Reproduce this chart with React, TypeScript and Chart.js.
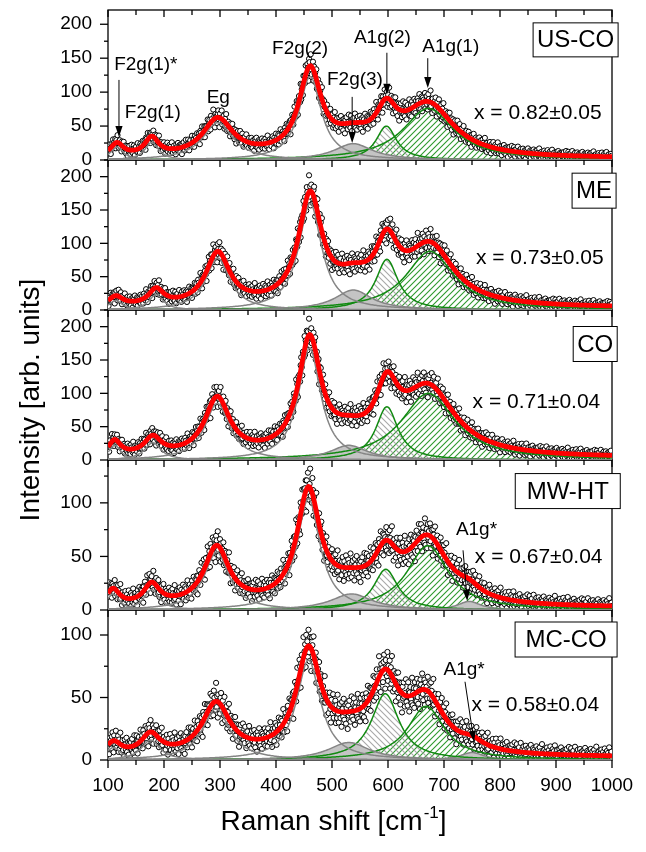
import { useEffect, useRef } from 'react';
import { Chart, registerables } from 'chart.js';

Chart.register(...registerables);

const FONT = '"Liberation Sans", Arial, Helvetica, sans-serif';

// ---------------- data ----------------
const panelNames = ['US-CO', 'ME', 'CO', 'MW-HT', 'MC-CO'];
const compositions = [
  'x = 0.82\u00B10.05',
  'x = 0.73\u00B10.05',
  'x = 0.71\u00B10.04',
  'x = 0.67\u00B10.04',
  'x = 0.58\u00B10.04',
];
const panelYMax = [221, 225, 225, 140, 120];
const xRange = [100, 1000];
const xTickValues = [100, 200, 300, 400, 500, 600, 700, 800, 900, 1000];
const yTickValues = [
  [0, 50, 100, 150, 200],
  [0, 50, 100, 150, 200],
  [0, 50, 100, 150, 200],
  [0, 50, 100],
  [0, 50, 100],
];

// Raman bands: centre [cm-1], height [arb. u.], half width [cm-1]
const bandNames = ['F2g(1)*', 'F2g(1)', 'Eg', 'F2g(2)', 'F2g(3)', 'A1g(2)', 'A1g(1)', 'A1g*'];
const bandCenters = [
  [116, 178, 296, 461, 538, 597, 672, 750],
  [114, 186, 296, 461, 538, 598, 675, 750],
  [112, 180, 295, 460, 530, 598, 672, 750],
  [109, 178, 294, 458, 535, 596, 671, 745],
  [110, 176, 293, 458, 530, 595, 668, 750],
];
const bandHeights = [
  [19, 26, 55, 123, 24, 50, 76, 0],
  [14, 23, 78, 160, 30, 76, 88, 0],
  [22, 26, 85, 168, 22, 80, 100, 0],
  [15, 19, 54, 104, 15, 38, 60, 8],
  [10, 16, 41, 80, 14, 53, 43, 6],
];
const bandWidths = [
  [14, 15, 33, 24, 42, 22, 55, 25],
  [15, 16, 26, 25, 40, 24, 52, 25],
  [13, 18, 27, 24, 40, 24, 58, 25],
  [14, 17, 27, 25, 45, 26, 45, 25],
  [16, 20, 30, 26, 45, 30, 40, 25],
];
const baselines = [2, 3, 3, 2, 2];

// measured-point scatter around the fit (residuals in units of the local noise)
const residuals = [
  0.3, -1.2, 0.8, 1.5, -0.4, -2.0, 0.9, 0.1, -0.7, 1.8, -1.1, 0.5, -0.2, 1.2, -1.6, 0.7, -0.9, 2.1, -0.3, -1.4,
  0.6, 1.0, -0.8, 0.2, -1.9, 1.3, 0.4, -0.6, 1.7, -1.0, -0.1, 0.9, -1.5, 0.5, 1.1, -2.2, 0.8, -0.5, 1.4, -0.2,
  -1.3, 0.3, 1.9, -0.7, 0.0, -1.1, 1.6, 0.6, -1.8, 0.4, 1.0, -0.4, -0.9, 2.0, -1.2, 0.2, 0.7, -1.6, 1.3, -0.3,
  0.5, -1.0, 1.5, -0.6, -1.4, 0.9, 0.1, -2.1, 1.2, 0.6, -0.8, 1.8, -0.5, -1.2, 0.3, 1.1, -1.7, 0.8, -0.1, 0.4,
  -0.9, 1.6, -1.3, 0.2, 1.0, -0.6, -1.5, 1.4, 0.5, -0.3, -1.0, 2.2, -0.7, 0.6, -1.9, 0.9, 0.0,
];
const noiseScale = [0.65, 0.7, 0.7, 0.7, 0.7];
const noiseFloor = [1.8, 2.0, 2.0, 1.9, 1.9];
const pointStep = 1;
const curveStep = 2;

// ---------------- annotations (positions in data units of each panel) ----------------
const peakLabels = [
  { panel: 0, text: 'F2g(1)*', x: 111, y: 140, align: 'left' },
  { panel: 0, text: 'F2g(1)', x: 130, y: 69, align: 'left' },
  { panel: 0, text: 'Eg', x: 297, y: 91, align: 'center' },
  { panel: 0, text: 'F2g(2)', x: 443, y: 164, align: 'center' },
  { panel: 0, text: 'F2g(3)', x: 541, y: 118, align: 'center' },
  { panel: 0, text: 'A1g(2)', x: 590, y: 180, align: 'center' },
  { panel: 0, text: 'A1g(1)', x: 712, y: 167, align: 'center' },
  { panel: 3, text: 'A1g*', x: 758, y: 74.5, align: 'center' },
  { panel: 4, text: 'A1g*', x: 736, y: 72, align: 'center' },
];
const arrows = [
  { panel: 0, x1: 119.6, y1: 118, x2: 119.6, y2: 34 },
  { panel: 0, x1: 536, y1: 93, x2: 536, y2: 25 },
  { panel: 0, x1: 598, y1: 158, x2: 598, y2: 96 },
  { panel: 0, x1: 671, y1: 150, x2: 671, y2: 106 },
  { panel: 3, x1: 734, y1: 55.7, x2: 741.6, y2: 8.5 },
  { panel: 4, x1: 737.5, y1: 62.6, x2: 753.6, y2: 14.6 },
];
const compositionPos = [
  { x: 753.6, y: 69 },
  { x: 757, y: 78 },
  { x: 751, y: 86 },
  { x: 755, y: 49 },
  { x: 749, y: 44 },
];
const nameBoxPos = [
  { x: 935, y: 177, w: 85, h: 34 },
  { x: 968, y: 179, w: 44, h: 35 },
  { x: 970, y: 174, w: 44, h: 35 },
  { x: 921, y: 111, w: 105, h: 35 },
  { x: 918, y: 96.4, w: 102, h: 35 },
];

// ---------------- helpers ----------------
function bandValue(p: number, b: number, x: number) {
  const h = bandHeights[p][b];
  if (!h) return 0;
  const d = (x - bandCenters[p][b]) / bandWidths[p][b];
  return h / (1 + d * d);
}
function fitValue(p: number, x: number) {
  let s = baselines[p];
  for (let b = 0; b < bandNames.length; b++) s += bandValue(p, b, x);
  return s;
}
const curveGrid: number[] = [];
for (let v = xRange[0]; v <= xRange[1]; v += curveStep) curveGrid.push(v);
const pointGrid: number[] = [];
for (let v = xRange[0]; v <= xRange[1]; v += pointStep) pointGrid.push(v);

function hatch(color: string, dir: string) {
  const c = document.createElement('canvas');
  c.width = 6;
  c.height = 6;
  const g = c.getContext('2d')!;
  g.strokeStyle = color;
  g.lineWidth = 1.1;
  g.beginPath();
  if (dir === '/') {
    g.moveTo(0, 6); g.lineTo(6, 0);
    g.moveTo(-1, 1); g.lineTo(1, -1);
    g.moveTo(5, 7); g.lineTo(7, 5);
  } else {
    g.moveTo(0, 0); g.lineTo(6, 6);
    g.moveTo(-1, 5); g.lineTo(1, 7);
    g.moveTo(5, -1); g.lineTo(7, 1);
  }
  g.stroke();
  return g.createPattern(c, 'repeat')!;
}

const GRAY = '#858585';
const GREEN = '#118a11';
const bandLineColor = [GRAY, GRAY, GRAY, GRAY, GRAY, GREEN, GREEN, GRAY];
const bandFillKind = ['', '', '', '', 'solid', 'grayHatch', 'greenHatch', 'solid'];

function buildDatasets() {
  const fills: Record<string, any> = {
    solid: '#c4c4c4',
    grayHatch: hatch('#a8a8a8', '\\'),
    greenHatch: hatch('#2f9a2f', '/'),
  };
  const ds: any[] = [];
  panelNames.forEach((_, p) => {
    const yAxisID = 'y' + p;
    [4, 7, 5, 6].forEach((b) => {
      if (!bandHeights[p][b]) return;
      ds.push({
        type: 'line', yAxisID, order: 50,
        data: curveGrid.map((x) => ({ x, y: bandValue(p, b, x) })),
        borderWidth: 0, pointRadius: 0, fill: 'origin',
        backgroundColor: fills[bandFillKind[b]],
      });
    });
    ds.push({
      type: 'scatter', yAxisID, order: 40,
      data: pointGrid.map((x, i) => {
        const f = fitValue(p, x);
        const r = residuals[(i + p * 23) % residuals.length];
        return { x, y: f + r * (noiseScale[p] * Math.sqrt(f) + noiseFloor[p]) };
      }),
      pointRadius: 2.6, pointBorderWidth: 1, pointBorderColor: '#000', pointBackgroundColor: '#fff',
      showLine: false,
    });
    bandNames.forEach((_, b) => {
      if (!bandHeights[p][b]) return;
      ds.push({
        type: 'line', yAxisID, order: 30,
        data: curveGrid.map((x) => ({ x, y: bandValue(p, b, x) })),
        borderColor: bandLineColor[b], borderWidth: 1.5, pointRadius: 0, fill: false,
      });
    });
    ds.push({
      type: 'line', yAxisID, order: 10,
      data: curveGrid.map((x) => ({ x, y: fitValue(p, x) })),
      borderColor: '#ff0000', borderWidth: 4.8, pointRadius: 0, fill: false,
    });
  });
  return ds;
}

const decorations = {
  id: 'decorations',
  beforeDatasetsDraw(chart: any) {
    const ctx = chart.ctx;
    const xs = chart.scales.x;
    ctx.save();
    ctx.strokeStyle = '#000';
    ctx.lineWidth = 1.3;
    panelNames.forEach((_, p) => {
      const ys = chart.scales['y' + p];
      ctx.strokeRect(xs.left, ys.top, xs.right - xs.left, ys.bottom - ys.top);
    });
    ctx.restore();
  },
  afterDraw(chart: any) {
    const ctx = chart.ctx;
    const xs = chart.scales.x;
    ctx.save();
    ctx.strokeStyle = '#000';
    ctx.fillStyle = '#000';
    ctx.lineWidth = 1.3;
    const line = (a: number, b: number, c: number, d: number) => {
      ctx.beginPath(); ctx.moveTo(a, b); ctx.lineTo(c, d); ctx.stroke();
    };
    panelNames.forEach((_, p) => {
      const ys = chart.scales['y' + p];
      for (let v = 0; v <= panelYMax[p]; v += 25) {
        const py = ys.getPixelForValue(v);
        line(xs.left - (v % 50 === 0 ? 8 : 4), py, xs.left, py);
      }
      for (let v = xRange[0]; v <= xRange[1]; v += 50) {
        const px = xs.getPixelForValue(v);
        line(px, ys.top, px, ys.top + (v % 100 === 0 ? 7 : 5));
      }
    });
    for (let v = xRange[0]; v <= xRange[1]; v += 50) {
      const px = xs.getPixelForValue(v);
      line(px, xs.top, px, xs.top + (v % 100 === 0 ? 8 : 5));
    }

    ctx.font = `19px ${FONT}`;
    ctx.textBaseline = 'middle';
    peakLabels.forEach((l) => {
      const ys = chart.scales['y' + l.panel];
      ctx.textAlign = l.align as CanvasTextAlign;
      ctx.fillText(l.text, xs.getPixelForValue(l.x), ys.getPixelForValue(l.y));
    });
    ctx.lineWidth = 1;
    arrows.forEach((a) => {
      const ys = chart.scales['y' + a.panel];
      const x1 = xs.getPixelForValue(a.x1), y1 = ys.getPixelForValue(a.y1);
      const x2 = xs.getPixelForValue(a.x2), y2 = ys.getPixelForValue(a.y2);
      const ang = Math.atan2(y2 - y1, x2 - x1);
      const L = 11, W = 3.6;
      const bx = x2 - L * Math.cos(ang), by = y2 - L * Math.sin(ang);
      line(x1, y1, bx, by);
      ctx.beginPath();
      ctx.moveTo(x2, y2);
      ctx.lineTo(bx + W * Math.sin(ang), by - W * Math.cos(ang));
      ctx.lineTo(bx - W * Math.sin(ang), by + W * Math.cos(ang));
      ctx.closePath();
      ctx.fill();
    });
    ctx.font = `21px ${FONT}`;
    ctx.textAlign = 'left';
    compositions.forEach((t, p) => {
      const ys = chart.scales['y' + p];
      ctx.fillText(t, xs.getPixelForValue(compositionPos[p].x), ys.getPixelForValue(compositionPos[p].y));
    });
    ctx.font = `24px ${FONT}`;
    ctx.textAlign = 'center';
    panelNames.forEach((t, p) => {
      const ys = chart.scales['y' + p];
      const b = nameBoxPos[p];
      const cx = xs.getPixelForValue(b.x), cy = ys.getPixelForValue(b.y);
      ctx.fillStyle = '#fff';
      ctx.fillRect(cx - b.w / 2, cy - b.h / 2, b.w, b.h);
      ctx.strokeStyle = '#000';
      ctx.lineWidth = 1;
      ctx.strokeRect(cx - b.w / 2, cy - b.h / 2, b.w, b.h);
      ctx.fillStyle = '#000';
      ctx.fillText(t, cx, cy + 1);
    });
    const mainFont = `28px ${FONT}`;
    ctx.font = mainFont;
    ctx.textAlign = 'center';
    ctx.textBaseline = 'middle';
    ctx.save();
    ctx.translate(31, 400);
    ctx.rotate(-Math.PI / 2);
    ctx.fillText('Intensity [arb. units]', 0, 0);
    ctx.restore();

    const a = 'Raman shift [cm', sup = '-1', c = ']';
    const supFont = `17px ${FONT}`;
    ctx.textAlign = 'left';
    ctx.textBaseline = 'alphabetic';
    ctx.font = mainFont;
    const wa = ctx.measureText(a).width;
    const wc = ctx.measureText(c).width;
    ctx.font = supFont;
    const ws = ctx.measureText(sup).width;
    const cx = 333, base = 830;
    const x0 = cx - (wa + ws + wc) / 2;
    ctx.font = mainFont;
    ctx.fillText(a, x0, base);
    ctx.fillText(c, x0 + wa + ws + 1, base);
    ctx.font = supFont;
    ctx.fillText(sup, x0 + wa + 1, base - 12);
    ctx.restore();
  },
};

export default function App() {
  const ref = useRef<HTMLCanvasElement>(null);
  useEffect(() => {
    const scales: any = {
      x: {
        type: 'linear', position: 'bottom', min: xRange[0], max: xRange[1],
        grid: { display: false, drawTicks: false }, border: { display: false },
        ticks: {
          color: '#000', font: { size: 19, family: FONT }, padding: 14, maxRotation: 0, autoSkip: false,
          callback: (v: any) => String(v),
        },
        afterBuildTicks: (s: any) => { s.ticks = xTickValues.map((v) => ({ value: v })); },
        afterFit: (s: any) => { s.height = 92; s.paddingLeft = 0; s.paddingRight = 0; },
      },
    };
    panelNames.forEach((_, p) => {
      scales['y' + p] = {
        type: 'linear', position: 'left', stack: 'panels', stackWeight: 1, weight: 5 - p,
        min: 0, max: panelYMax[p],
        grid: { display: false, drawTicks: false }, border: { display: false },
        ticks: { color: '#000', font: { size: 19, family: FONT }, padding: 16, autoSkip: false, callback: (v: any) => String(v) },
        afterBuildTicks: (s: any) => { s.ticks = yTickValues[p].map((v) => ({ value: v })); },
        afterFit: (s: any) => { s.width = 108; s.paddingTop = 0; s.paddingBottom = 0; },
      };
    });
    const chart = new Chart(ref.current!, {
      type: 'line',
      data: { datasets: buildDatasets() },
      options: {
        responsive: false,
        animation: false,
        devicePixelRatio: 1,
        events: [],
        layout: { padding: { left: 0, top: 10, right: 34, bottom: 0 } },
        plugins: { legend: { display: false }, tooltip: { enabled: false } },
        scales,
      },
      plugins: [decorations],
    } as any);
    return () => chart.destroy();
  }, []);
  return (
    <div style={{ position: 'absolute', left: 0, top: 0, width: 646, height: 852, background: '#fff' }}>
      <canvas ref={ref} width={646} height={852} style={{ display: 'block', width: 646, height: 852 }} />
    </div>
  );
}
